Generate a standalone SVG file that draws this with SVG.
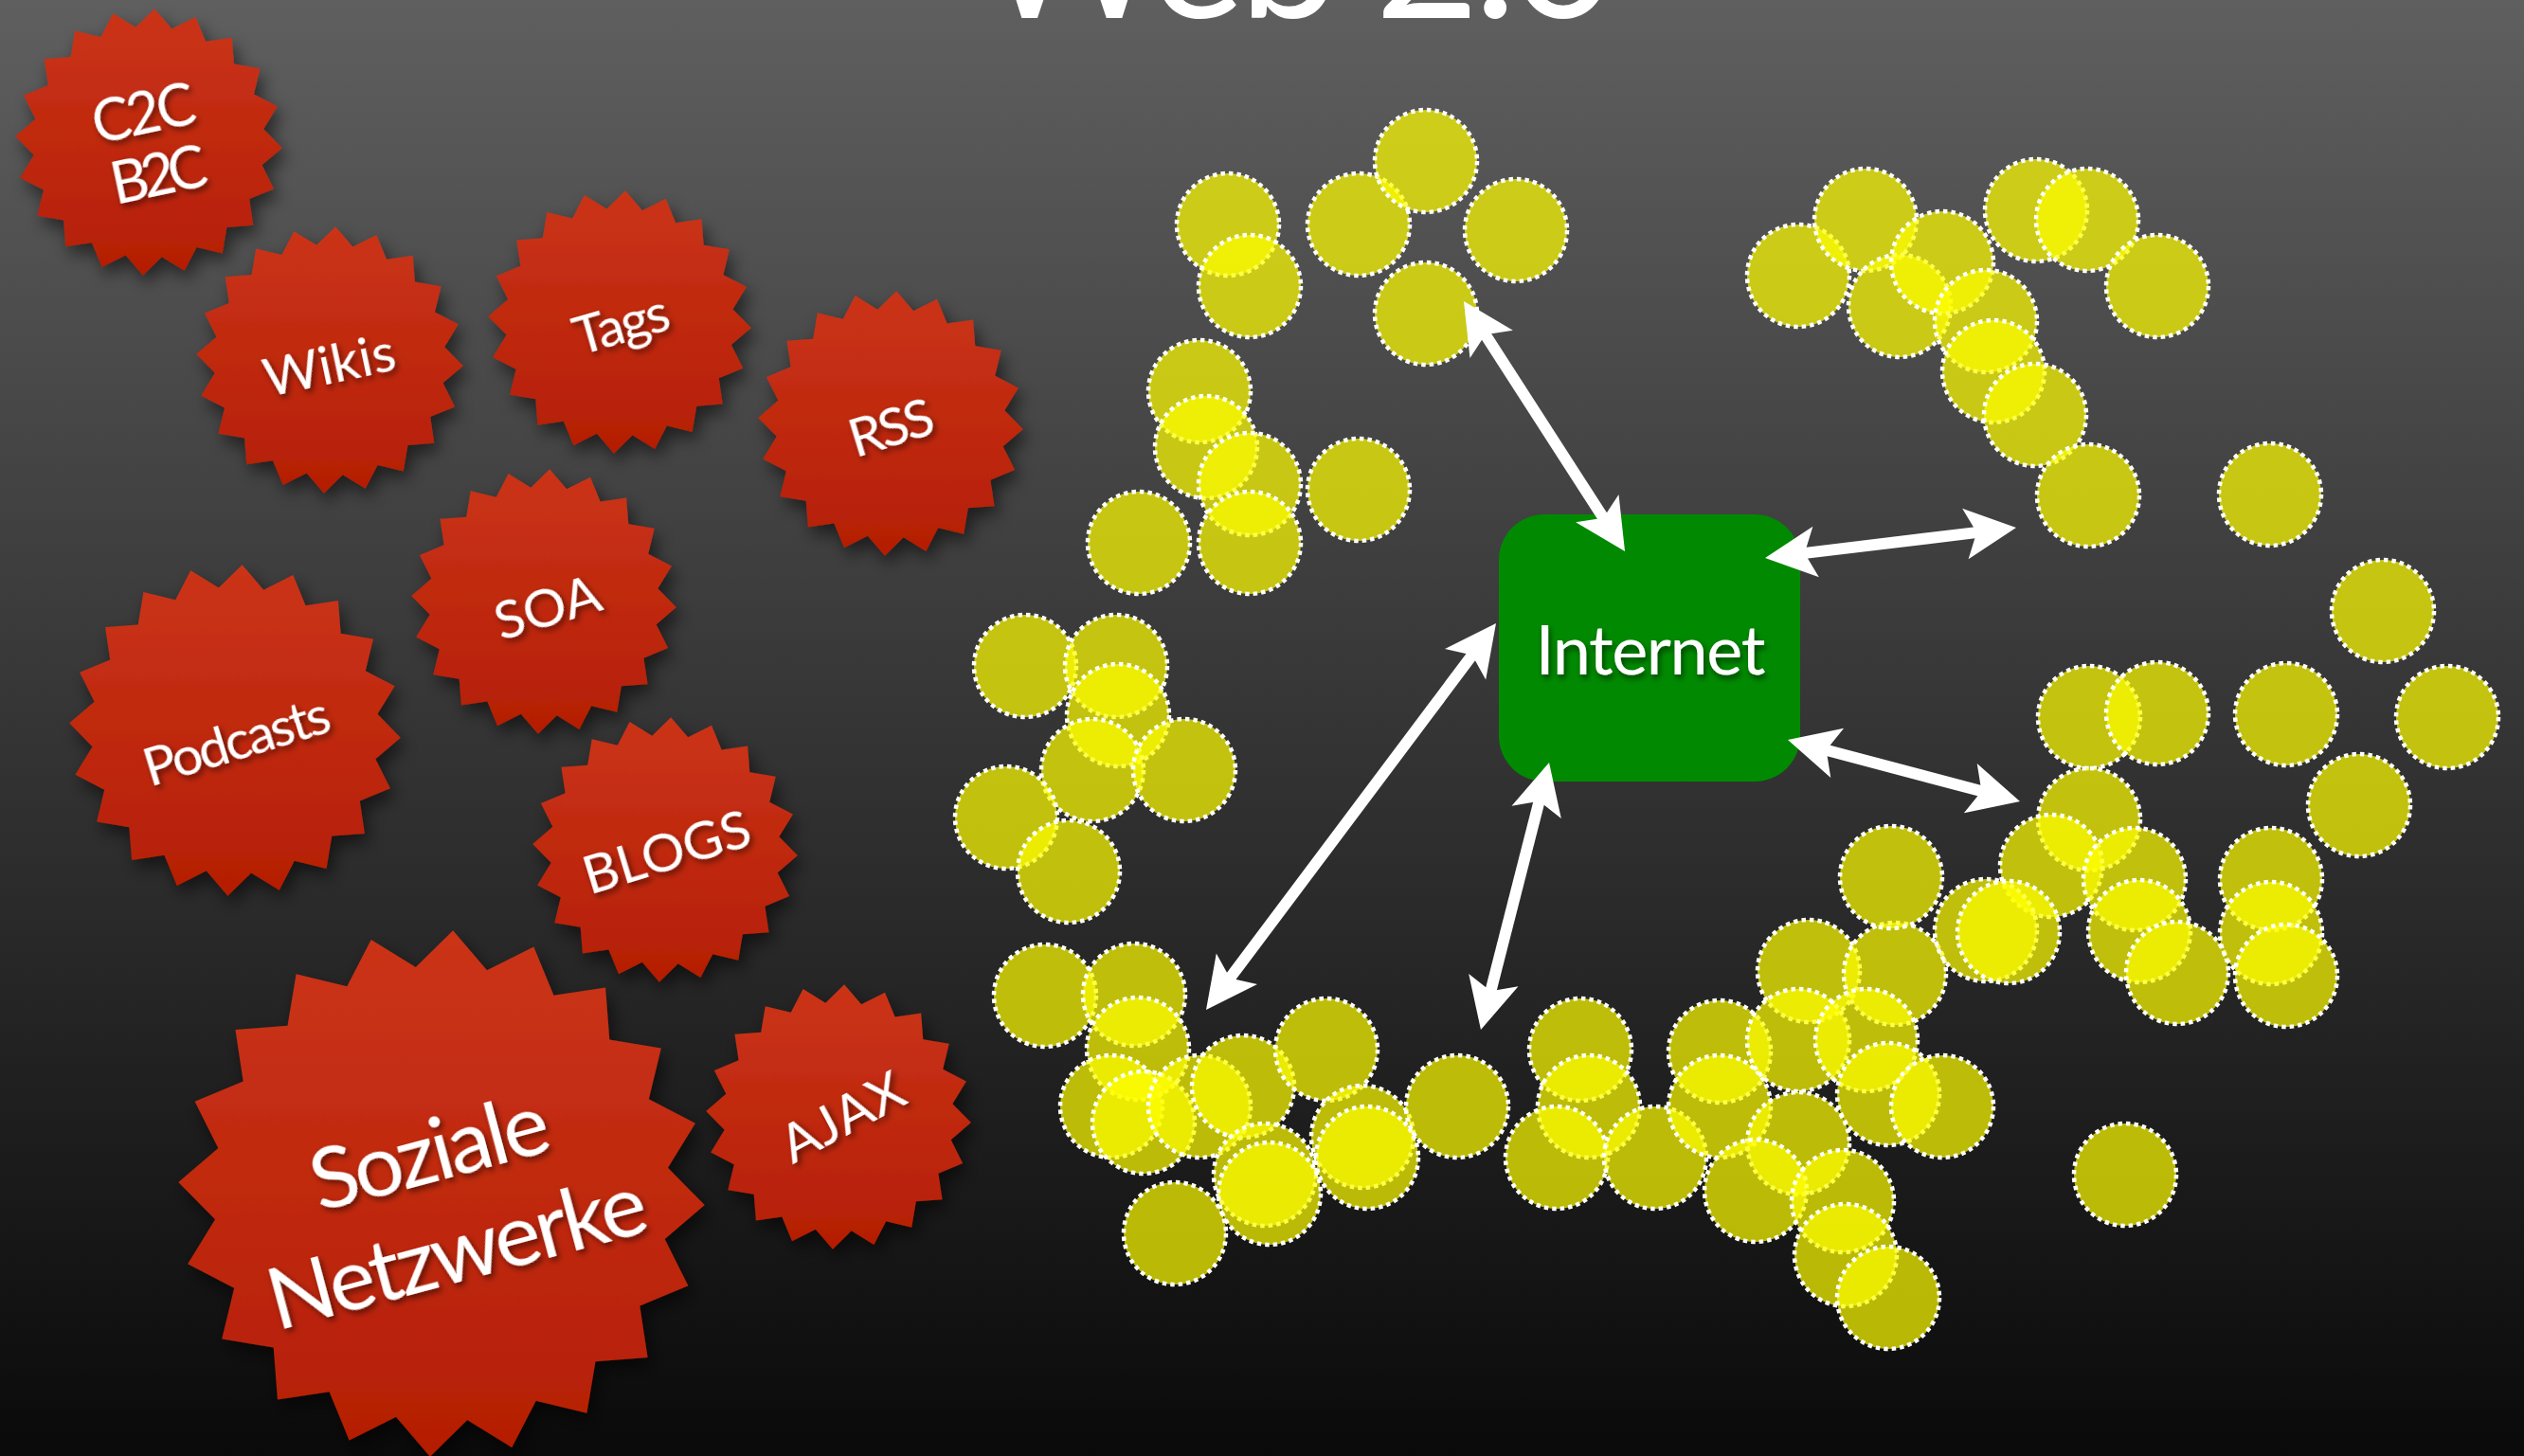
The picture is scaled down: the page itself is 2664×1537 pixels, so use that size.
<svg xmlns="http://www.w3.org/2000/svg" xmlns:xlink="http://www.w3.org/1999/xlink" width="2664" height="1537" viewBox="0 0 2664 1537">
  <defs>
    <linearGradient id="bg" x1="0" y1="0" x2="0" y2="1537" gradientUnits="userSpaceOnUse">
      <stop offset="0" stop-color="#5f5f5f"/>
      <stop offset="1" stop-color="#0a0a0a"/>
    </linearGradient>
    <linearGradient id="starFill" x1="0" y1="0" x2="0" y2="1" gradientUnits="objectBoundingBox">
      <stop offset="0" stop-color="#cb3419"/>
      <stop offset="1" stop-color="#b41e04"/>
    </linearGradient>
    <filter id="starShadow" x="-20%" y="-20%" width="150%" height="150%">
      <feDropShadow dx="5" dy="9" stdDeviation="9" flood-color="#000" flood-opacity="0.55"/>
    </filter>
    <filter id="textShadow" x="-10%" y="-30%" width="130%" height="170%">
      <feDropShadow dx="2" dy="4" stdDeviation="3" flood-color="#000" flood-opacity="0.55"/>
    </filter>
    <!-- 20-point burst, outer radius 100, inner radius 86.5 -->
    <path id="star" d="M4.36,-99.90 L17.25,-84.76 L35.02,-93.67 L42.59,-75.29 L62.25,-78.26 L63.77,-58.44 L83.39,-55.19 L78.71,-35.87 L96.36,-26.72 L85.94,-9.79 L99.90,4.36 L84.76,17.25 L93.67,35.02 L75.29,42.59 L78.26,62.25 L58.44,63.77 L55.19,83.39 L35.87,78.71 L26.72,96.36 L9.79,85.94 L-4.36,99.90 L-17.25,84.76 L-35.02,93.67 L-42.59,75.29 L-62.25,78.26 L-63.77,58.44 L-83.39,55.19 L-78.71,35.87 L-96.36,26.72 L-85.94,9.79 L-99.90,-4.36 L-84.76,-17.25 L-93.67,-35.02 L-75.29,-42.59 L-78.26,-62.25 L-58.44,-63.77 L-55.19,-83.39 L-35.87,-78.71 L-26.72,-96.36 L-9.79,-85.94 Z"/>
    <marker id="head" markerUnits="userSpaceOnUse" orient="auto-start-reverse" refX="0" refY="0" markerWidth="80" markerHeight="80" viewBox="-40 -40 80 80" overflow="visible">
      <path d="M30,0 L-24,-27 L-12,0 L-24,27 Z" fill="#fff"/>
    </marker>
    <style>
      .burst { fill: url(#starFill); }
      .lbl { font-family: Lato, "Open Sans", "Liberation Sans", sans-serif; fill: #fff; text-anchor: middle; dominant-baseline: central; filter: url(#textShadow); }
      .s { font-size: 57px; }
      .dot { fill: #ffff00; fill-opacity: 0.7; stroke: #fff; stroke-width: 4.5; stroke-dasharray: 4.5 4; }
      .link { stroke: #fff; stroke-width: 12; fill: none; marker-start: url(#head); marker-end: url(#head); }
    </style>
  </defs>

  <rect width="2664" height="1537" fill="url(#bg)"/>

  <!-- title, clipped by the top edge -->
  <text x="1033" y="19" font-family="Lato, 'Open Sans', 'Liberation Sans', sans-serif" font-size="190" fill="#fff" textLength="672">Web 2.0</text>

  <!-- buzzword bursts -->
  <g id="node-c2c">
    <g filter="url(#starShadow)"><use xlink:href="#star" class="burst" transform="translate(157,150) scale(1.41)"/></g>
    <text class="lbl" font-size="61" transform="translate(151,117) rotate(-12)" textLength="110">C2C</text>
    <text class="lbl" font-size="61" transform="translate(167,182) rotate(-12)" textLength="102">B2C</text>
  </g>
  <g id="node-wikis">
    <g filter="url(#starShadow)"><use xlink:href="#star" class="burst" transform="translate(348,380) scale(1.41)"/></g>
    <text class="lbl s" transform="translate(347,383) rotate(-12)" textLength="141">Wikis</text>
  </g>
  <g id="node-tags">
    <g filter="url(#starShadow)"><use xlink:href="#star" class="burst" transform="translate(654,340) scale(1.39)"/></g>
    <text class="lbl s" transform="translate(655,340) rotate(-16)" textLength="103">Tags</text>
  </g>
  <g id="node-rss">
    <g filter="url(#starShadow)"><use xlink:href="#star" class="burst" transform="translate(940,447) scale(1.40)"/></g>
    <text class="lbl s" transform="translate(940,449) rotate(-17)" textLength="91">RSS</text>
  </g>
  <g id="node-soa">
    <g filter="url(#starShadow)"><use xlink:href="#star" class="burst" transform="translate(574,635) scale(1.40)"/></g>
    <text class="lbl s" transform="translate(577,639) rotate(-17)" textLength="114">SOA</text>
  </g>
  <g id="node-podcasts">
    <g filter="url(#starShadow)"><use xlink:href="#star" class="burst" transform="translate(248,771) scale(1.75)"/></g>
    <text class="lbl s" transform="translate(249,780) rotate(-17)" textLength="203">Podcasts</text>
  </g>
  <g id="node-blogs">
    <g filter="url(#starShadow)"><use xlink:href="#star" class="burst" transform="translate(702,897) scale(1.40)"/></g>
    <text class="lbl s" transform="translate(703,897) rotate(-17)" textLength="182">BLOGS</text>
  </g>
  <g id="node-soziale">
    <g filter="url(#starShadow)"><use xlink:href="#star" class="burst" transform="translate(466,1260) scale(2.78)"/></g>
    <text class="lbl" font-size="92" transform="translate(452,1212) rotate(-15)" textLength="257">Soziale</text>
    <text class="lbl" font-size="92" transform="translate(481,1317) rotate(-15)" textLength="410">Netzwerke</text>
  </g>
  <g id="node-ajax">
    <g filter="url(#starShadow)"><use xlink:href="#star" class="burst" transform="translate(885,1179) scale(1.40)"/></g>
    <text class="lbl s" transform="translate(888,1177) rotate(-28)" textLength="140">AJAX</text>
  </g>

  <!-- participants: translucent dotted discs -->
  <g id="node-participants">
    <circle class="dot" cx="1296" cy="237" r="54"/>
    <circle class="dot" cx="1319" cy="302" r="54"/>
    <circle class="dot" cx="1434" cy="237" r="54"/>
    <circle class="dot" cx="1505" cy="170" r="54"/>
    <circle class="dot" cx="1600" cy="243" r="54"/>
    <circle class="dot" cx="1505" cy="331" r="54"/>
    <circle class="dot" cx="1266" cy="413" r="54"/>
    <circle class="dot" cx="1273" cy="472" r="54"/>
    <circle class="dot" cx="1319" cy="511" r="54"/>
    <circle class="dot" cx="1319" cy="573" r="54"/>
    <circle class="dot" cx="1434" cy="517" r="54"/>
    <circle class="dot" cx="1202" cy="573" r="54"/>

    <circle class="dot" cx="1082" cy="703" r="54"/>
    <circle class="dot" cx="1178" cy="703" r="54"/>
    <circle class="dot" cx="1180" cy="755" r="54"/>
    <circle class="dot" cx="1153" cy="813" r="54"/>
    <circle class="dot" cx="1250" cy="813" r="54"/>
    <circle class="dot" cx="1062" cy="863" r="54"/>
    <circle class="dot" cx="1128" cy="920" r="54"/>

    <circle class="dot" cx="1103" cy="1051" r="54"/>
    <circle class="dot" cx="1197" cy="1050" r="54"/>
    <circle class="dot" cx="1201" cy="1107" r="54"/>
    <circle class="dot" cx="1173" cy="1168" r="54"/>
    <circle class="dot" cx="1207" cy="1185" r="54"/>
    <circle class="dot" cx="1266" cy="1168" r="54"/>
    <circle class="dot" cx="1312" cy="1147" r="54"/>
    <circle class="dot" cx="1400" cy="1108" r="54"/>
    <circle class="dot" cx="1335" cy="1240" r="54"/>
    <circle class="dot" cx="1340" cy="1260" r="54"/>
    <circle class="dot" cx="1240" cy="1302" r="54"/>
    <circle class="dot" cx="1438" cy="1200" r="54"/>
    <circle class="dot" cx="1443" cy="1222" r="54"/>
    <circle class="dot" cx="1538" cy="1168" r="54"/>

    <circle class="dot" cx="1668" cy="1108" r="54"/>
    <circle class="dot" cx="1677" cy="1168" r="54"/>
    <circle class="dot" cx="1643" cy="1222" r="54"/>
    <circle class="dot" cx="1747" cy="1222" r="54"/>
    <circle class="dot" cx="1815" cy="1110" r="54"/>
    <circle class="dot" cx="1815" cy="1168" r="54"/>
    <circle class="dot" cx="1909" cy="1025" r="54"/>
    <circle class="dot" cx="2000" cy="1028" r="54"/>
    <circle class="dot" cx="1898" cy="1098" r="54"/>
    <circle class="dot" cx="1970" cy="1098" r="54"/>
    <circle class="dot" cx="1993" cy="1155" r="54"/>
    <circle class="dot" cx="2050" cy="1168" r="54"/>
    <circle class="dot" cx="1898" cy="1207" r="54"/>
    <circle class="dot" cx="1853" cy="1257" r="54"/>
    <circle class="dot" cx="1945" cy="1268" r="54"/>
    <circle class="dot" cx="1948" cy="1325" r="54"/>
    <circle class="dot" cx="1993" cy="1370" r="54"/>

    <circle class="dot" cx="1898" cy="291" r="54"/>
    <circle class="dot" cx="1969" cy="232" r="54"/>
    <circle class="dot" cx="2005" cy="323" r="54"/>
    <circle class="dot" cx="2050" cy="277" r="54"/>
    <circle class="dot" cx="2096" cy="339" r="54"/>
    <circle class="dot" cx="2104" cy="392" r="54"/>
    <circle class="dot" cx="2148" cy="438" r="54"/>
    <circle class="dot" cx="2204" cy="523" r="54"/>
    <circle class="dot" cx="2149" cy="222" r="54"/>
    <circle class="dot" cx="2203" cy="232" r="54"/>
    <circle class="dot" cx="2277" cy="302" r="54"/>
    <circle class="dot" cx="2396" cy="522" r="54"/>

    <circle class="dot" cx="2515" cy="645" r="54"/>
    <circle class="dot" cx="2205" cy="757" r="54"/>
    <circle class="dot" cx="2277" cy="753" r="54"/>
    <circle class="dot" cx="2413" cy="754" r="54"/>
    <circle class="dot" cx="2583" cy="757" r="54"/>
    <circle class="dot" cx="2490" cy="850" r="54"/>
    <circle class="dot" cx="2205" cy="865" r="54"/>
    <circle class="dot" cx="2165" cy="914" r="54"/>
    <circle class="dot" cx="2253" cy="928" r="54"/>
    <circle class="dot" cx="2096" cy="982" r="54"/>
    <circle class="dot" cx="2120" cy="984" r="54"/>
    <circle class="dot" cx="2258" cy="983" r="54"/>
    <circle class="dot" cx="2298" cy="1027" r="54"/>
    <circle class="dot" cx="2397" cy="928" r="54"/>
    <circle class="dot" cx="2397" cy="985" r="54"/>
    <circle class="dot" cx="2413" cy="1030" r="54"/>
    <circle class="dot" cx="1996" cy="926" r="54"/>
    <circle class="dot" cx="2243" cy="1240" r="54"/>
  </g>

  <!-- central hub -->
  <g id="node-internet">
    <rect x="1582" y="543" width="318" height="282" rx="48" fill="#018a01"/>
    <text class="lbl" font-size="72" x="1742" y="684" textLength="243">Internet</text>
  </g>

  <!-- double-headed links -->
  <g id="connectors">
    <line class="link" x1="1561.2" y1="343.2" x2="1698.8" y2="556.8"/>
    <line class="link" x1="1892.8" y1="585.4" x2="2098.2" y2="560.6"/>
    <line class="link" x1="1916.0" y1="788.7" x2="2103.0" y2="838.3"/>
    <line class="link" x1="1561" y1="682" x2="1291" y2="1042"/>
    <line class="link" x1="1627.6" y1="834.1" x2="1570.4" y2="1057.9"/>
  </g>
</svg>
